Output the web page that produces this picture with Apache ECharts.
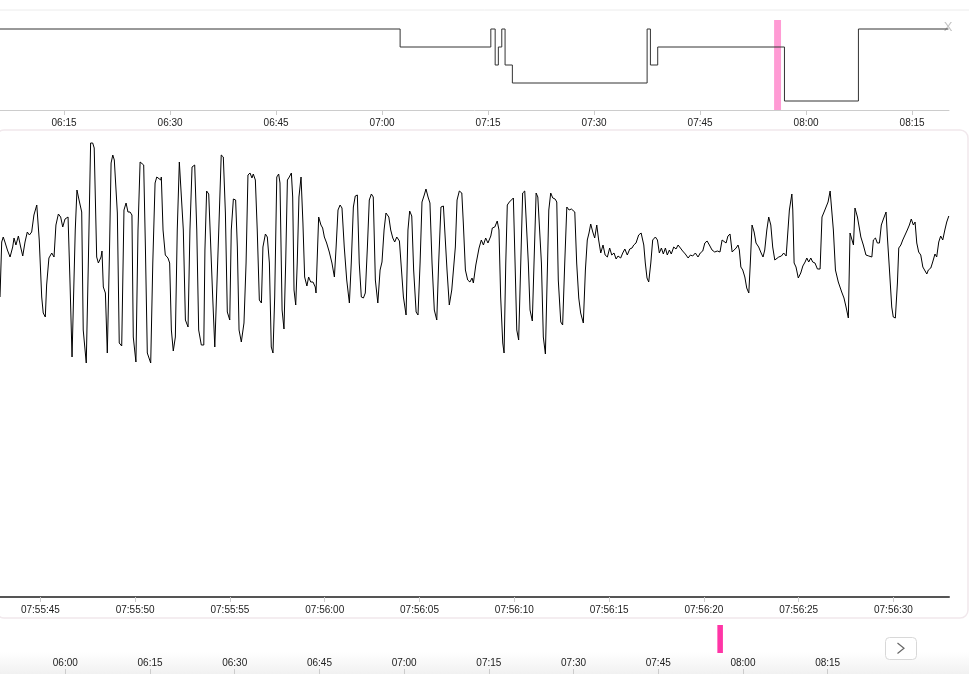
<!DOCTYPE html>
<html>
<head>
<meta charset="utf-8">
<title>hypnogram</title>
<script src="https://cdn.jsdelivr.net/npm/echarts@6.0.0/dist/echarts.min.js"></script>
<style>
  html, body { margin: 0; padding: 0; background: #fff; }
  #chart { width: 969px; height: 674px; }
</style>
</head>
<body>
<div id="chart"></div>
<script>
// hypnogram: stage changes (0 = top level ... 4 = bottom level)
var hypnoTimes = ['06:05:56','07:02:33','07:15:23','07:16:00','07:16:27','07:16:56','07:17:24',
                  '07:18:26','07:37:30','07:37:58','07:39:00','07:56:56','08:07:24','08:20:08'];
var hypnoStages = [0, 1, 0, 2, 1, 0, 2, 3, 0, 2, 1, 4, 0, 0];

// axis ranges and tick labels
var topRange = ['06:05:56', '08:20:13'];
var topTicks = ['06:15','06:30','06:45','07:00','07:15','07:30','07:45','08:00','08:15'];
var overviewRange = ['05:48:26', '08:24:16'];
var overviewTicks = ['06:00','06:15','06:30','06:45','07:00','07:15','07:30','07:45','08:00','08:15'];
var selection = ['07:55:28', '07:56:27'];

// signal epoch: seconds after signalBase
var signalBase = '07:55:40';
var signalRange = [2.87, 52.93];
var signalTicks = ['07:55:45','07:55:50','07:55:55','07:56:00','07:56:05',
                   '07:56:10','07:56:15','07:56:20','07:56:25','07:56:30'];
var signalSec = [
  2.87,2.96,3.04,3.13,3.26,3.40,3.54,3.61,3.71,3.84,
  3.96,4.07,4.19,4.31,4.42,4.54,4.66,4.81,4.94,5.07,
  5.15,5.26,5.33,5.45,5.60,5.72,5.82,5.95,6.07,6.18,
  6.30,6.46,6.56,6.67,6.76,6.84,6.93,7.04,7.18,7.26,
  7.42,7.53,7.65,7.76,7.84,7.97,8.06,8.20,8.25,8.32,
  8.43,8.53,8.64,8.73,8.82,8.90,8.99,9.06,9.16,9.29,
  9.41,9.52,9.62,9.73,9.83,9.90,10.04,10.15,10.26,10.35,
  10.45,10.54,10.64,10.82,10.93,11.05,11.14,11.22,11.35,11.38,
  11.47,11.59,11.73,11.82,11.91,12.01,12.12,12.22,12.33,12.43,
  12.54,12.65,12.79,12.89,13.00,13.14,13.25,13.35,13.49,13.62,
  13.68,13.77,13.88,13.97,14.09,14.20,14.30,14.41,14.54,14.65,
  14.76,14.86,14.99,15.07,15.18,15.30,15.39,15.48,15.60,15.74,
  15.85,15.95,16.06,16.16,16.23,16.34,16.44,16.55,16.66,16.74,
  16.87,16.97,17.08,17.18,17.27,17.36,17.47,17.57,17.64,17.75,
  17.85,17.94,18.03,18.13,18.24,18.31,18.38,18.47,18.55,18.64,
  18.75,18.85,18.94,19.06,19.15,19.26,19.38,19.50,19.54,19.68,
  19.80,19.89,19.98,20.10,20.24,20.38,20.51,20.60,20.70,20.81,
  20.91,21.03,21.16,21.30,21.40,21.51,21.61,21.72,21.82,21.93,
  22.04,22.14,22.25,22.35,22.46,22.56,22.67,22.80,22.92,23.02,
  23.13,23.23,23.38,23.48,23.59,23.69,23.80,23.94,24.04,24.15,
  24.29,24.39,24.48,24.59,24.69,24.82,24.92,25.03,25.13,25.25,
  25.34,25.45,25.55,25.66,25.78,25.91,26.01,26.13,26.26,26.35,
  26.45,26.57,26.70,26.80,26.89,26.98,27.10,27.23,27.31,27.42,
  27.54,27.66,27.77,27.84,27.97,28.05,28.14,28.26,28.37,28.49,
  28.61,28.76,28.84,28.97,29.10,29.19,29.28,29.39,29.46,29.55,
  29.63,29.74,29.84,29.95,30.04,30.13,30.23,30.34,30.44,30.55,
  30.63,30.74,30.83,30.95,31.04,31.15,31.24,31.32,31.43,31.53,
  31.64,31.71,31.82,31.92,32.03,32.15,32.24,32.32,32.45,32.55,
  32.66,32.77,32.89,33.01,33.19,33.29,33.40,33.50,33.64,33.75,
  33.85,33.94,34.03,34.14,34.24,34.35,34.45,34.56,34.68,34.79,
  34.91,35.03,35.14,35.26,35.37,35.47,35.61,35.72,35.83,35.96,
  36.09,36.21,36.30,36.42,36.56,36.69,36.83,36.91,37.00,37.09,
  37.20,37.30,37.44,37.55,37.65,37.76,37.86,37.97,38.07,38.18,
  38.28,38.41,38.53,38.64,38.76,38.88,39.02,39.17,39.29,39.41,
  39.55,39.69,39.81,39.94,40.05,40.17,40.29,40.43,40.57,40.71,
  40.85,40.96,41.06,41.17,41.27,41.38,41.49,41.59,41.70,41.80,
  41.87,41.95,42.05,42.16,42.26,42.37,42.45,42.54,42.65,42.75,
  42.89,43.02,43.12,43.21,43.32,43.42,43.53,43.63,43.74,43.84,
  43.95,44.09,44.21,44.34,44.44,44.51,44.64,44.69,44.76,44.86,
  44.98,45.11,45.22,45.34,45.43,45.53,45.64,45.74,45.86,45.99,
  46.13,46.23,46.34,46.44,46.55,46.66,46.73,46.83,46.94,47.09,
  47.27,47.39,47.50,47.62,47.71,47.80,47.89,47.97,48.10,48.20,
  48.28,48.41,48.55,48.70,48.86,48.94,49.05,49.15,49.26,49.36,
  49.47,49.61,49.68,49.78,49.91,49.99,50.10,50.21,50.28,50.39,
  50.49,50.61,50.73,50.84,50.94,51.05,51.14,51.23,51.33,51.44,
  51.55,51.65,51.76,51.84,51.97,52.07,52.19,52.28,52.39,52.49,
  52.60,52.71,52.81,52.92
];
var signalVal = [
  -47,8,13,8,0,-7,3,12,5,14,
  3,-6,8,18,15,18,35,45,10,-47,
  -63,-67,-35,-8,-3,-7,25,36,33,23,
  31,33,-30,-107,-108,20,60,50,38,-80,
  -113,-13,107,107,102,-7,-13,-7,-1,-37,
  -43,-103,-7,87,95,90,91,37,-93,-96,
  40,47,38,38,35,-87,-112,20,88,89,
  85,3,-103,-113,-13,67,73,72,70,73,
  20,-5,-8,-13,-80,-101,-87,20,88,89,
  20,-70,-77,20,83,85,20,-80,-95,-95,
  0,59,56,55,-47,-97,-98,20,95,93,
  37,-62,-70,20,51,50,3,-80,-92,-73,
  -13,75,77,72,76,70,20,-50,-53,3,
  16,13,-13,-97,-103,-47,73,76,67,-60,
  -79,-13,70,73,77,53,-40,-55,-13,53,
  73,27,-27,-36,-27,-32,-32,-37,-43,33,
  25,22,13,7,-2,-13,-27,3,40,45,
  42,3,-30,-53,-13,43,54,55,-13,-47,
  -48,-43,3,50,56,53,-30,-53,-20,-12,
  20,37,33,20,12,8,13,9,8,-47,
  -65,20,39,34,-20,-62,-65,-13,48,55,
  61,53,47,-13,-60,-70,-13,43,44,42,
  -20,-55,-40,-38,3,50,59,57,27,-20,
  -30,-32,-28,-33,-15,-17,2,10,5,12,
  7,14,22,23,29,20,-47,-93,-103,-13,
  45,48,47,52,-13,-80,-90,-13,57,59,
  57,-13,-60,-71,-13,57,53,54,-13,-87,
  -104,-47,40,57,52,51,48,-30,-72,-75,
  -13,43,40,41,38,-13,-48,-63,-73,-20,
  10,17,26,18,12,25,10,-3,5,-5,
  -7,2,-5,-3,-9,-6,-8,-3,1,-5,
  1,2,5,7,15,17,5,-13,-28,-32,
  -13,10,13,10,-3,2,-4,2,-5,0,
  -4,3,1,5,2,-1,-4,-8,-5,-6,
  -3,-7,-3,-1,7,9,5,0,-2,-1,
  -2,10,12,7,14,16,-2,-4,2,5,
  0,-17,-20,-27,-38,-43,-13,25,18,7,
  3,-3,-7,0,20,33,25,3,-10,-12,
  -7,-6,-3,-6,-6,40,56,40,-13,-17,
  -28,-23,-16,-12,-8,-12,-8,-12,-13,-19,
  -19,33,38,40,48,59,58,20,-20,-32,
  -42,-48,-57,-68,17,15,5,42,33,22,
  13,5,-5,-6,-7,10,12,7,7,25,
  31,38,13,-17,-57,-67,-68,-33,2,5,
  10,15,20,25,31,25,28,7,-2,-5,
  -17,-15,-24,-20,-18,-12,-4,-7,8,14,
  10,20,28,34
];

function at(hms, sec) {
  var p = hms.split(':').map(Number);
  return new Date(2024, 0, 1, p[0], p[1], p[2] || 0).getTime() + (sec || 0) * 1000;
}
function pad(n) { return (n < 10 ? '0' : '') + n; }
function fmtHM(v) { var d = new Date(v); return pad(d.getHours()) + ':' + pad(d.getMinutes()); }
function fmtHMS(v) { var d = new Date(v); return fmtHM(v) + ':' + pad(d.getSeconds()); }

var hypnoData = hypnoTimes.map(function (t, i) { return [at(t), hypnoStages[i]]; });
var signalData = signalSec.map(function (s, i) { return [at(signalBase, s), signalVal[i]]; });
var selArea = [[{ xAxis: at(selection[0]) }, { xAxis: at(selection[1]) }]];
var topTickValues = topTicks.map(function (t) { return at(t); });
var signalTickValues = signalTicks.map(function (t) { return at(t); });
var overviewTickValues = overviewTicks.map(function (t) { return at(t); });

var option = {
  animation: false,
  backgroundColor: '#fff',
  textStyle: { fontFamily: 'Liberation Sans, Arial, sans-serif' },
  grid: [
    { left: 0, width: 949, top: 20, height: 90 },
    { left: 0, width: 949, top: 131, height: 466 },
    { left: 0, width: 880, top: 625, height: 28 },
    { left: 0, width: 880, top: 669, height: 5 }
  ],
  xAxis: [
    {
      type: 'value', gridIndex: 0, scale: true,
      min: at(topRange[0]), max: at(topRange[1]),
      axisLine: { onZero: false, lineStyle: { color: '#cccccc' } },
      axisTick: { length: 5, customValues: topTickValues, lineStyle: { color: '#cccccc' } },
      axisLabel: { customValues: topTickValues, formatter: fmtHM, color: '#222', fontSize: 10, margin: 8 },
      splitLine: { show: false }
    },
    {
      type: 'value', gridIndex: 1, scale: true,
      min: at(signalBase, signalRange[0]), max: at(signalBase, signalRange[1]),
      axisLine: { onZero: false, lineStyle: { color: '#555555', width: 2 } },
      axisTick: { length: 5, customValues: signalTickValues, lineStyle: { color: '#cccccc' } },
      axisLabel: { customValues: signalTickValues, formatter: fmtHMS, color: '#222', fontSize: 10, margin: 8 },
      splitLine: { show: false }
    },
    {
      type: 'value', gridIndex: 2, scale: true, show: false,
      min: at(overviewRange[0]), max: at(overviewRange[1])
    },
    {
      type: 'value', gridIndex: 3, position: 'top', scale: true,
      min: at(overviewRange[0]), max: at(overviewRange[1]),
      axisLine: { show: false, onZero: false },
      axisTick: { inside: true, length: 6, customValues: overviewTickValues, lineStyle: { color: '#cccccc' } },
      axisLabel: { customValues: overviewTickValues, formatter: fmtHM, color: '#222', fontSize: 10, margin: 1 },
      splitLine: { show: false }
    }
  ],
  yAxis: [
    { type: 'value', gridIndex: 0, inverse: true, min: -0.5, max: 4.5, show: false },
    { type: 'value', gridIndex: 1, min: -347, max: 119, show: false },
    { type: 'value', gridIndex: 2, min: 0, max: 1, show: false },
    { type: 'value', gridIndex: 3, min: 0, max: 1, show: false }
  ],
  series: [
    {
      name: 'window', type: 'line', xAxisIndex: 0, yAxisIndex: 0, z: 1,
      data: [], silent: true,
      markArea: { silent: true, itemStyle: { color: '#ff9bd4', opacity: 1 }, data: selArea }
    },
    {
      name: 'hypnogram', type: 'line', xAxisIndex: 0, yAxisIndex: 0, z: 3,
      step: 'end', symbol: 'none', silent: true,
      lineStyle: { color: '#333', width: 1 },
      data: hypnoData
    },
    {
      name: 'signal', type: 'line', xAxisIndex: 1, yAxisIndex: 1,
      symbol: 'none', silent: true,
      lineStyle: { color: '#000', width: 1 },
      data: signalData
    },
    {
      name: 'marker', type: 'line', xAxisIndex: 2, yAxisIndex: 2,
      data: [], silent: true,
      markArea: { silent: true, itemStyle: { color: '#ff35a6', opacity: 1 }, data: selArea }
    },
    {
      name: 'overview', type: 'line', xAxisIndex: 3, yAxisIndex: 3, data: []
    }
  ],
  graphic: [
    { type: 'rect', z: -10, shape: { x: 0, y: 652, width: 969, height: 22 },
      style: { fill: new echarts.graphic.LinearGradient(0, 0, 0, 1, [
        { offset: 0, color: '#ffffff' }, { offset: 1, color: '#f1f1f1' }]) } },
    { type: 'line', shape: { x1: 0, y1: 10, x2: 969, y2: 10 },
      style: { stroke: '#ececec', lineWidth: 1 } },
    { type: 'rect', shape: { x: -4, y: 130, width: 972, height: 488, r: 8 },
      style: { fill: 'none', stroke: '#f1e8ec', lineWidth: 1.5 } },
    { type: 'text', x: 948, y: 27.5,
      style: { text: 'X', fill: '#c4c4c4', font: '13px Liberation Sans', align: 'center', verticalAlign: 'middle' } },
    { type: 'rect', shape: { x: 885.5, y: 637.5, width: 31, height: 22, r: 4 },
      style: { fill: '#fff', stroke: '#d8d8d8', lineWidth: 1 } },
    { type: 'polyline', shape: { points: [[897.5, 643], [904, 648.3], [897.5, 653.5]] },
      style: { fill: 'none', stroke: '#666', lineWidth: 1.2 } }
  ]
};

var chart = echarts.init(document.getElementById('chart'));
chart.setOption(option);
</script>
</body>
</html>
